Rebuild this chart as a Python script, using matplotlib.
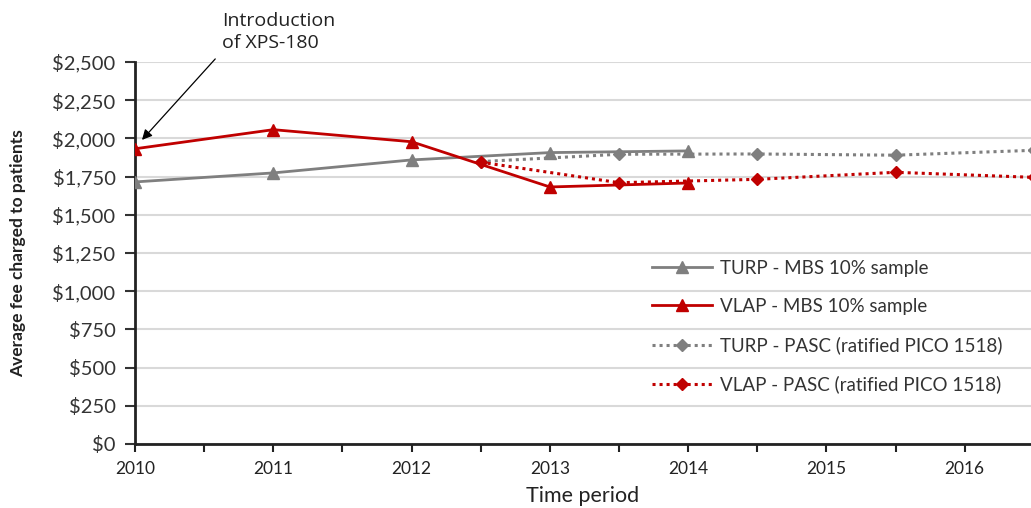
import numpy as np
import matplotlib.pyplot as plt
from matplotlib.ticker import FuncFormatter, MultipleLocator

# MBS 10% sample (annual)
mbs_years = [2010, 2011, 2012, 2013, 2014]
turp_mbs = [1715, 1774, 1859, 1907, 1918]
vlap_mbs = [1932, 2057, 1978, 1682, 1708]

# PASC (ratified PICO 1518), half-year points
pasc_years = [2012.5, 2013.5, 2014.5, 2015.5, 2016.5]
turp_pasc = [1848, 1896, 1898, 1890, 1922]
vlap_pasc = [1844, 1710, 1732, 1778, 1745]

year_labels = [2010, 2011, 2012, 2013, 2014, 2015, 2016]

grey = "#7f7f7f"
red = "#c00000"
plt.rcParams["font.family"] = ["Lato", "DejaVu Sans"]

fig = plt.figure(figsize=(10.31, 5.08), dpi=100)
ax = fig.add_axes([0.131, 0.126, 0.869, 0.752])

ax.plot(mbs_years, turp_mbs, color=grey, lw=2, marker="^", ms=9, zorder=3,
        label="TURP - MBS 10% sample")
ax.plot(mbs_years, vlap_mbs, color=red, lw=2, marker="^", ms=9, zorder=4,
        label="VLAP - MBS 10% sample")
ax.plot(pasc_years, turp_pasc, color=grey, lw=2.2, ls=(0, (1, 1.3)), marker="D",
        ms=6, zorder=3, label="TURP - PASC (ratified PICO 1518)")
ax.plot(pasc_years, vlap_pasc, color=red, lw=2.2, ls=(0, (1, 1.3)), marker="D",
        ms=6, zorder=3, label="VLAP - PASC (ratified PICO 1518)")

ax.set_xlim(2010, 2016.48)
ax.set_ylim(0, 2500)
ax.yaxis.set_major_locator(MultipleLocator(250))
ax.yaxis.set_major_formatter(FuncFormatter(lambda v, p: "${:,.0f}".format(v)))
ax.set_xticks(year_labels)
ax.set_xticks(np.arange(2010.5, 2016.5, 1), minor=True)
ax.tick_params(axis="x", which="both", direction="out", length=6, width=1.5,
               labelsize=12.5, pad=6, colors="#222222")
ax.tick_params(axis="y", direction="out", length=7, width=1.5, labelsize=14.5,
               pad=7, colors="#333333")
ax.grid(axis="y", color="#d9d9d9", lw=1.5)
ax.set_axisbelow(True)
for s in ["top", "right"]:
    ax.spines[s].set_visible(False)
for s in ["left", "bottom"]:
    ax.spines[s].set_linewidth(2)
    ax.spines[s].set_color("#222222")

ax.set_xlabel("Time period", fontsize=15.5, labelpad=7, color="#222222")
ax.set_ylabel("Average fee charged to patients", fontsize=12.5, fontweight="bold",
              labelpad=19, color="#222222")

leg = ax.legend(loc="upper left", bbox_to_anchor=(0.577, 0.482), frameon=False,
                fontsize=13.5, handlelength=3.2, handletextpad=0.4,
                labelspacing=1.13, borderaxespad=0, borderpad=0)
for t in leg.get_texts():
    t.set_color("#333333")

ax.text(2010.63, 2565, "Introduction\nof XPS-180", fontsize=14, family="Open Sans",
        ha="left", va="bottom", linespacing=1.3, color="#222222", clip_on=False)
ax.annotate("", xy=(2010.05, 1990), xytext=(2010.58, 2520),
            annotation_clip=False,
            arrowprops=dict(arrowstyle="-|>", color="black", lw=0.9,
                            shrinkA=0, shrinkB=0, mutation_scale=15))

fig.savefig("out.png", dpi=100)
